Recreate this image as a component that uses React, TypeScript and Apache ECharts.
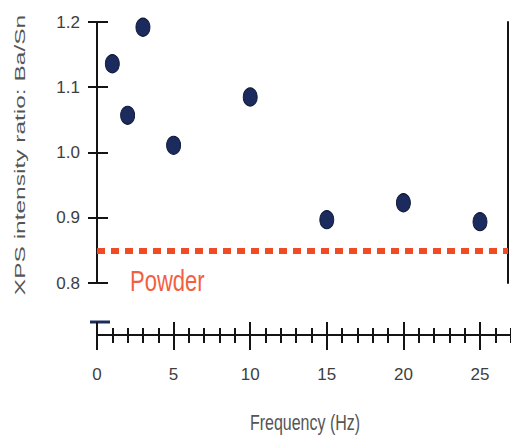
import React, { useEffect, useRef } from "react";
import * as echarts from "echarts";

// Measured Ba/Sn XPS intensity ratio against deposition frequency
const frequencyHz = [1, 2, 3, 5, 10, 15, 20, 25];
const baSnRatio = [1.136, 1.057, 1.192, 1.011, 1.085, 0.897, 0.923, 0.894];
// Reference level of the starting powder
const powderRatio = 0.85;

const yTickLabels = ["0.8", "0.9", "1.0", "1.1", "1.2"];
const xMajorTicks = [0, 5, 10, 15, 20, 25];
const xMinorStep = 1;

const yAxisTitle = "XPS intensity ratio: Ba/Sn";
const xAxisTitle = "Frequency (Hz)";
const powderText = "Powder";

// layout in px
const CHART_W = 511;
const PLOT_LEFT = 97;
const PLOT_TOP = 22;
const PLOT_HEIGHT = 261;
const PX_PER_HZ = 15.32;
const FRAME_RIGHT = 508;
const BASE_AXIS_Y = 335;

const INK = "#141414";
const LABEL_GRAY = "#3e3e3e";
const TITLE_GRAY = "#555555";
const NAVY = "#1c2b5e";
const ORANGE = "#f14b25";
const FONT = "'Liberation Sans', Arial, sans-serif";

const yMin = Number(yTickLabels[0]);
const yMax = Number(yTickLabels[yTickLabels.length - 1]);
const yStep = Math.round((Number(yTickLabels[1]) - yMin) * 1000) / 1000;

export default function App() {
  const ref = useRef<HTMLDivElement>(null);

  useEffect(() => {
    if (!ref.current) return;
    const chart = echarts.init(ref.current, undefined, { renderer: "svg" });

    const plotWidth = FRAME_RIGHT - PLOT_LEFT;
    const plotXMax = plotWidth / PX_PER_HZ;
    const baseWidth = CHART_W - PLOT_LEFT;
    const baseXMax = baseWidth / PX_PER_HZ;

    const minorTicks: number[] = [];
    for (let v = 0; v <= baseXMax; v += xMinorStep) minorTicks.push(v);

    const lineStyle = { color: INK, width: 2 };

    // the frequency axis is stacked from four axes so ticks cross the line
    const baseAxis = (ticks: number[], inside: boolean, length: number, main: boolean) => ({
      gridIndex: 1,
      type: "value",
      position: "bottom",
      min: 0,
      max: baseXMax,
      axisLine: { show: main, lineStyle },
      axisTick: { show: true, inside, length, lineStyle, customValues: ticks },
      splitLine: { show: false },
      axisLabel: main
        ? {
            show: true,
            customValues: xMajorTicks,
            margin: 31,
            color: LABEL_GRAY,
            fontSize: 17,
            fontFamily: FONT,
          }
        : { show: false },
    });

    chart.setOption({
      animation: false,
      backgroundColor: "#ffffff",
      grid: [
        { left: PLOT_LEFT, top: PLOT_TOP, width: plotWidth, height: PLOT_HEIGHT },
        { left: PLOT_LEFT, top: BASE_AXIS_Y - 35, width: baseWidth, height: 35 },
      ],
      xAxis: [
        { gridIndex: 0, type: "value", min: 0, max: plotXMax, show: false },
        baseAxis(minorTicks, true, 7, false),
        baseAxis(minorTicks, false, 8, false),
        baseAxis(xMajorTicks, false, 15, false),
        baseAxis(xMajorTicks, true, 13, true),
      ],
      yAxis: [
        {
          gridIndex: 0,
          type: "value",
          position: "left",
          min: yMin,
          max: yMax,
          interval: yStep,
          axisLine: { show: true, lineStyle },
          axisTick: { show: true, inside: false, length: 9, lineStyle },
          splitLine: { show: false },
          axisLabel: {
            show: true,
            margin: 17,
            color: LABEL_GRAY,
            fontSize: 17,
            fontFamily: FONT,
            formatter: (v: number) => v.toFixed(1),
          },
        },
        {
          gridIndex: 0,
          type: "value",
          position: "left",
          min: yMin,
          max: yMax,
          interval: yStep,
          axisLine: { show: false },
          axisTick: { show: true, inside: true, length: 11, lineStyle },
          splitLine: { show: false },
          axisLabel: { show: false },
        },
        {
          gridIndex: 0,
          type: "value",
          position: "right",
          min: yMin,
          max: yMax,
          axisLine: { show: true, lineStyle },
          axisTick: { show: false },
          splitLine: { show: false },
          axisLabel: { show: false },
        },
        { gridIndex: 1, type: "value", min: 0, max: 1, show: false },
      ],
      series: [
        {
          type: "scatter",
          xAxisIndex: 0,
          yAxisIndex: 0,
          data: frequencyHz.map((f, i) => [f, baSnRatio[i]]),
          symbol: "circle",
          symbolSize: [14, 18],
          itemStyle: { color: NAVY, borderColor: "#0c1634", borderWidth: 1, opacity: 1 },
          markLine: {
            silent: true,
            symbol: ["none", "none"],
            label: { show: false },
            lineStyle: { color: ORANGE, width: 6, type: [8, 6], cap: "butt", opacity: 1 },
            data: [{ yAxis: powderRatio }],
          },
        },
      ],
      graphic: [
        {
          type: "text",
          x: 20,
          y: 155,
          rotation: Math.PI / 2,
          scaleX: 1.75,
          style: {
            text: yAxisTitle,
            fontSize: 14,
            fontFamily: FONT,
            fill: TITLE_GRAY,
            align: "center",
            verticalAlign: "middle",
          },
        },
        {
          type: "text",
          x: 305,
          y: 422,
          scaleY: 1.4,
          style: {
            text: xAxisTitle,
            fontSize: 16,
            fontFamily: FONT,
            fill: TITLE_GRAY,
            align: "center",
            verticalAlign: "middle",
          },
        },
        {
          type: "text",
          x: 130,
          y: 281,
          scaleY: 1.3,
          style: {
            text: powderText,
            fontSize: 22,
            fontFamily: FONT,
            fill: "#f2603f",
            align: "left",
            verticalAlign: "middle",
          },
        },
        {
          // top cap of the lower (broken) y-axis segment
          type: "line",
          shape: { x1: PLOT_LEFT - 7, y1: BASE_AXIS_Y - 13, x2: PLOT_LEFT + 13, y2: BASE_AXIS_Y - 13 },
          style: { stroke: NAVY, lineWidth: 3 },
        },
      ],
    });

    return () => chart.dispose();
  }, []);

  return (
    <div
      ref={ref}
      style={{ position: "fixed", left: 0, top: 0, width: 511, height: 435, background: "#fff" }}
    />
  );
}
